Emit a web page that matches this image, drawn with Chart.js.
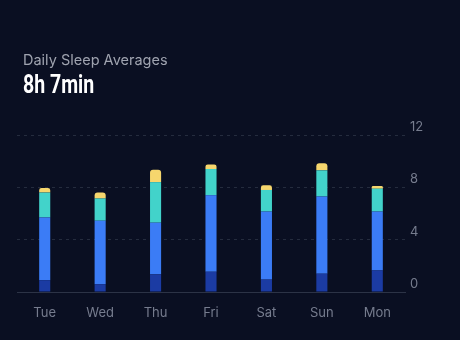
<!DOCTYPE html>
<html>
<head>
<meta charset="utf-8">
<script src="https://cdn.jsdelivr.net/npm/chart.js@4"></script>
<style>
  html, body { margin: 0; padding: 0; background: #0a0f22; }
  #wrap { position: relative; width: 460px; height: 340px; }
  #title { position: absolute; left: 23px; top: 51px; font: 14.5px "Inter", "Noto Sans", sans-serif; color: #9fa3af; }
  #avg { position: absolute; left: 23px; top: 70px; font: bold 25px "Roboto", sans-serif; color: #ffffff; transform: scaleX(0.78); transform-origin: left top; }
  canvas { position: absolute; left: 0; top: 0; }
</style>
</head>
<body>
<div id="wrap">
  <canvas id="myChart" width="460" height="340"></canvas>
  <div id="title">Daily Sleep Averages</div>
  <div id="avg">8h 7min</div>
</div>
<script>
const days = ["Tue", "Wed", "Thu", "Fri", "Sat", "Sun", "Mon"];
const deep = [0.9, 0.6, 1.35, 1.55, 0.95, 1.4, 1.65];
const core = [4.8, 4.85, 3.95, 5.85, 5.2, 5.9, 4.5];
const rem = [1.9, 1.7, 3.1, 2.0, 1.65, 2.0, 1.75];
const awake = [0.35, 0.45, 0.95, 0.35, 0.35, 0.55, 0.2];
const yTicks = [0, 4, 8, 12];

const ctx = document.getElementById("myChart").getContext("2d");

const data = {
  labels: days,
  datasets: [
    { label: "Deep", data: deep, backgroundColor: "#1b3ba3" },
    { label: "Core", data: core, backgroundColor: "#3b7cf6" },
    { label: "REM", data: rem, backgroundColor: "#42d3ca" },
    {
      label: "Awake",
      data: awake,
      backgroundColor: "#f6d66d",
      borderRadius: { topLeft: 3, topRight: 3, bottomLeft: 0, bottomRight: 0 },
      borderSkipped: false,
    },
  ],
};

const config = {
  type: "bar",
  data: data,
  options: {
    responsive: false,
    animation: false,
    layout: { padding: { top: 135, left: 17, right: 0, bottom: 0 } },
    datasets: { bar: { categoryPercentage: 1, barPercentage: 0.2 } },
    plugins: { legend: { display: false }, tooltip: { enabled: false } },
    scales: {
      x: {
        stacked: true,
        grid: { display: false },
        border: { display: true, color: "#2c3346", width: 1 },
        ticks: { color: "#767c8e", font: { size: 13, family: "Inter, sans-serif" }, padding: 5 },
        afterFit: (scale) => { scale.height = 48; },
      },
      y: {
        stacked: true,
        position: "right",
        min: 0,
        max: 12,
        afterBuildTicks: (scale) => { scale.ticks = yTicks.map((v) => ({ value: v })); },
        grid: { color: "#252c3e", drawTicks: false },
        border: { display: false, dash: [3, 4] },
        ticks: {
          color: "#767c8e",
          font: { size: 13, family: "Inter, sans-serif" },
          padding: 5,
          labelOffset: -8,
        },
        afterFit: (scale) => { scale.width = 55; },
      },
    },
  },
};

const myChart = new Chart(ctx, config);
</script>
</body>
</html>
